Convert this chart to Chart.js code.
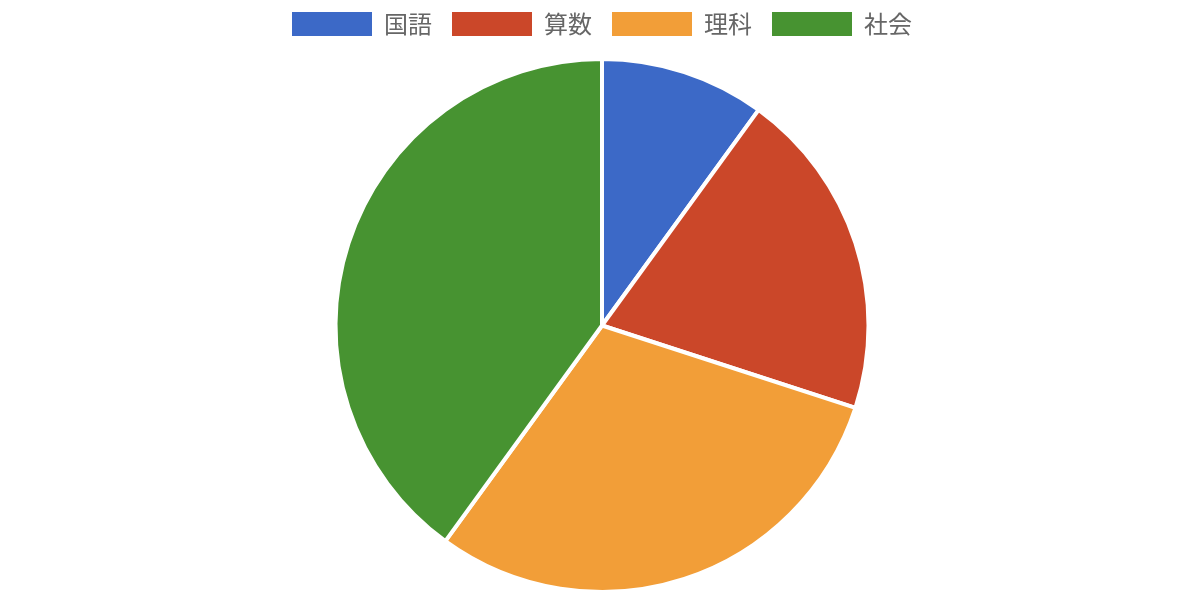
<!DOCTYPE html>
<html>
<head>
<meta charset="utf-8">
<script src="https://cdn.jsdelivr.net/npm/chart.js@4"></script>
<style>
html,body{margin:0;padding:0;background:#fff;}
#wrap{width:1177px;height:599px;position:relative;}
</style>
</head>
<body>
<div id="wrap"><canvas id="c"></canvas></div>
<script>
const categories = ['国語', '算数', '理科', '社会'];
const values = [10, 20, 30, 40];
const colors = ['#3c69c7', '#cb4729', '#f29e38', '#479331'];

const legendGap = {
  id: 'legendGap',
  beforeInit(chart) {
    const lg = chart.legend;
    const orig = lg.fit;
    lg.fit = function () { orig.call(this); this.height += 11; };
  }
};

new Chart(document.getElementById('c'), {
  type: 'pie',
  data: {
    labels: categories,
    datasets: [{
      data: values,
      backgroundColor: colors,
      borderColor: '#ffffff',
      borderWidth: 4
    }]
  },
  plugins: [legendGap],
  options: {
    responsive: true,
    maintainAspectRatio: false,
    animation: false,
    layout: { padding: { left: 27, top: -8, bottom: 5, right: 0 } },
    plugins: {
      legend: {
        position: 'top',
        labels: {
          boxWidth: 80,
          boxHeight: 24,
          padding: 20,
          color: '#666666',
          font: { family: "'Noto Sans CJK JP', 'Noto Sans', sans-serif", size: 24 },
          generateLabels(chart) {
            const items = Chart.controllers.pie.overrides.plugins.legend.labels.generateLabels(chart);
            items.forEach(it => { it.lineWidth = 0; });
            return items;
          }
        }
      },
      tooltip: { enabled: false }
    }
  }
});
</script>
</body>
</html>
